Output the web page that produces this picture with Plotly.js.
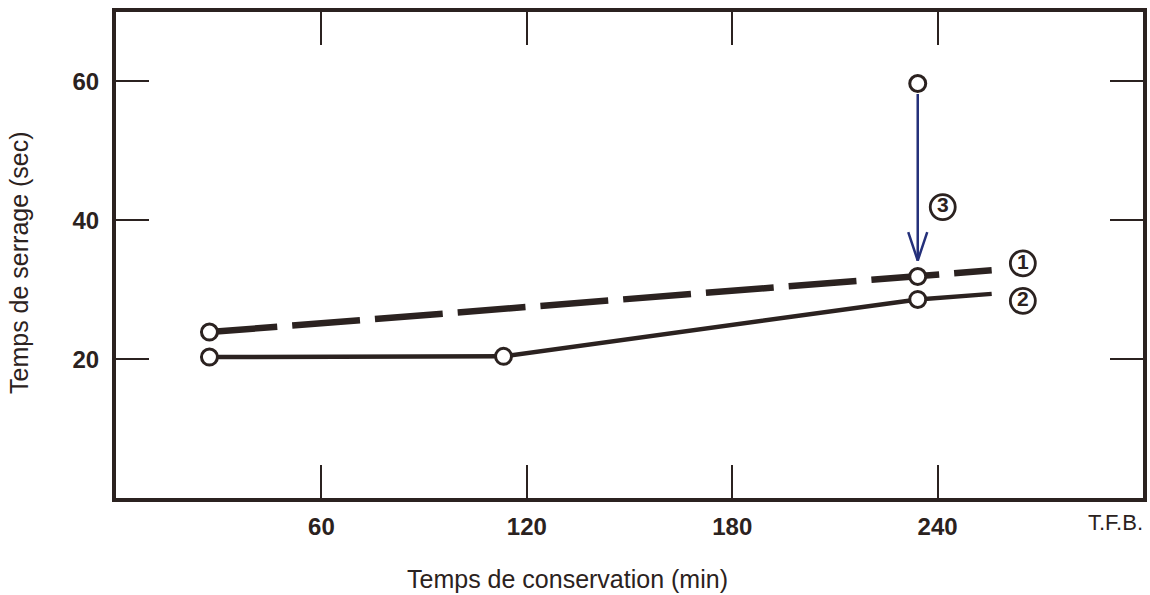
<!DOCTYPE html>
<html>
<head>
<meta charset="utf-8">
<script src="https://cdn.plot.ly/plotly-3.0.1.min.js"></script>
<style>html,body{margin:0;padding:0;background:#fff;}#chart{width:1150px;height:595px;}</style>
</head>
<body>
<div id="chart"></div>
<script>
// Series 1 (dashed)
const s1X = [27.3, 234.2, 255.8];
const s1Y = [23.9, 31.9, 32.8];
const s1Marker = [true, true, false];
// Series 2 (solid)
const s2X = [27.3, 113.2, 234.2, 255.8];
const s2Y = [20.3, 20.4, 28.6, 29.4];
const s2Marker = [true, true, true, false];
// Series 3 (arrow from 60 down to series 1)
const s3X = [234.2];
const s3Y = [59.7];
const s3ArrowTipY = 34.2;
// Tick labels
const xTicks = [60, 120, 180, 240];
const yTicks = [20, 40, 60];
// Curve labels
const curveLabels = ['1', '2', '3'];
const curveLabelX = [264.9, 264.9, 241.5];
const curveLabelY = [33.8, 28.4, 41.9];

const ink = '#2b2220';
const navy = '#24307a';
const pick = (arr, flags) => arr.filter((_, i) => flags[i]);
const circleMarker = {size: 16, color: '#fff', opacity: 1, line: {color: ink, width: 3}};

const traces = [
  {x: s1X, y: s1Y, mode: 'lines', line: {color: ink, width: 6.5, dash: '68px,15px'}, cliponaxis: false},
  {x: s2X, y: s2Y, mode: 'lines', line: {color: ink, width: 4.5}, cliponaxis: false},
  {x: pick(s1X, s1Marker), y: pick(s1Y, s1Marker), mode: 'markers', marker: circleMarker},
  {x: pick(s2X, s2Marker), y: pick(s2Y, s2Marker), mode: 'markers', marker: circleMarker},
  {x: s3X, y: s3Y, mode: 'markers', marker: circleMarker},
  {x: curveLabelX, y: curveLabelY, mode: 'markers+text', text: curveLabels, textposition: 'middle center',
   marker: {size: 25, color: '#fff', line: {color: ink, width: 2.8}},
   textfont: {family: 'Liberation Sans, Arial', size: 21, color: ink, weight: 'bold'}, cliponaxis: false}
];

const annotations = [
  // arrow shaft
  {x: s3X[0], y: s3ArrowTipY, ax: s3X[0], ay: s3Y[0], xref: 'x', yref: 'y', axref: 'x', ayref: 'y',
   showarrow: true, arrowhead: 0, arrowwidth: 2.5, arrowcolor: navy, startstandoff: 9, text: ''},
  // arrow barbs
  {x: s3X[0], y: s3ArrowTipY, ax: -10, ay: -30, xref: 'x', yref: 'y',
   showarrow: true, arrowhead: 0, arrowwidth: 2.5, arrowcolor: navy, text: ''},
  {x: s3X[0], y: s3ArrowTipY, ax: 10, ay: -30, xref: 'x', yref: 'y',
   showarrow: true, arrowhead: 0, arrowwidth: 2.5, arrowcolor: navy, text: ''},
  {x: 0.5, y: 0, xref: 'paper', yref: 'paper', text: 'T.F.B.', showarrow: false,
   xanchor: 'center', yanchor: 'middle', font: {family: 'Liberation Sans, Arial', size: 22, color: ink}},
  {x: 0, y: 0, xref: 'paper', yref: 'paper', text: 'Temps de conservation (min)', showarrow: false,
   xanchor: 'center', yanchor: 'middle', font: {family: 'Liberation Sans, Arial', size: 25, color: ink}},
  {x: 0, y: 0, xref: 'paper', yref: 'paper', text: 'Temps de serrage (sec)', showarrow: false, textangle: -90,
   xanchor: 'center', yanchor: 'middle', font: {family: 'Liberation Sans, Arial', size: 25, color: ink}},
];
const W = 1150, H = 595, L = 116, R = 7, T = 12, B = 97;
const pw = W - L - R, ph = H - T - B;
annotations[3].x = (1115 - L) / pw; annotations[3].y = (H - B - 522) / ph;
annotations[4].x = (567 - L) / pw;  annotations[4].y = (H - B - 579) / ph;
annotations[5].x = (19 - L) / pw;   annotations[5].y = (H - B - 263) / ph;

const axisCommon = {
  showgrid: false, zeroline: false, showline: true, linecolor: ink, linewidth: 4, mirror: 'ticks',
  ticks: 'inside', ticklen: 33, tickwidth: 2, tickcolor: ink,
  tickfont: {family: 'Liberation Sans, Arial', size: 24, color: ink, weight: 'bold'}
};

const layout = {
  width: W, height: H,
  margin: {l: L, r: R, t: T, b: B},
  paper_bgcolor: '#fff', plot_bgcolor: '#fff',
  showlegend: false,
  xaxis: Object.assign({}, axisCommon, {range: [0, 300], tickvals: xTicks, ticktext: xTicks.map(String), ticklabelstandoff: 4}),
  yaxis: Object.assign({}, axisCommon, {range: [0, 70], tickvals: yTicks, ticktext: yTicks.map(String), ticklabelstandoff: 8}),
  annotations: annotations
};

Plotly.newPlot('chart', traces, layout, {displayModeBar: false, staticPlot: true});
</script>
</body>
</html>
